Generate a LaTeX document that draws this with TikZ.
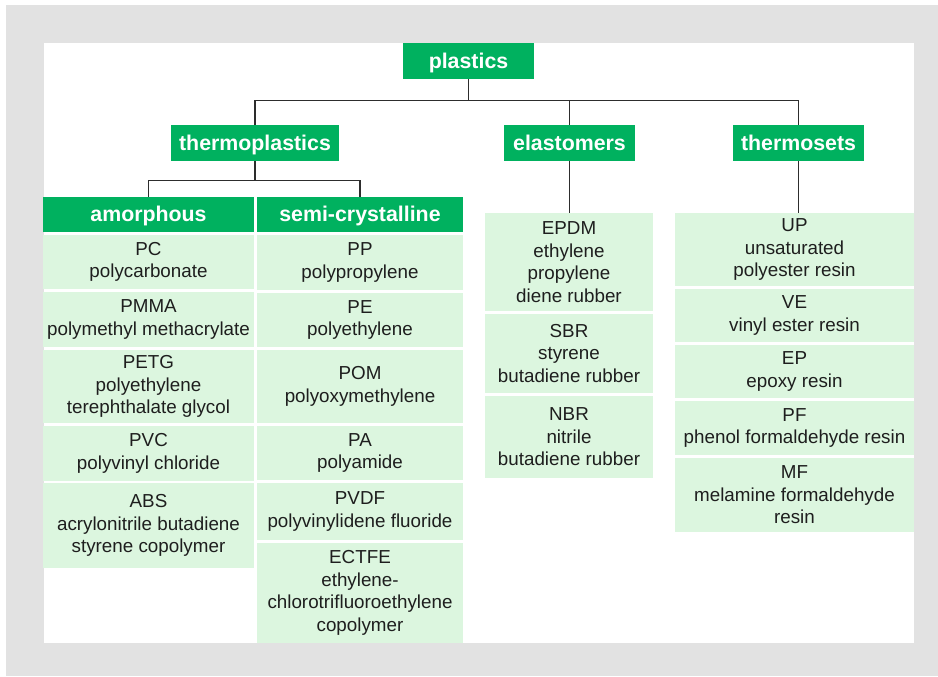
\documentclass[tikz,border=0pt]{standalone}
\usepackage{fontspec}
\setmainfont{Liberation Sans}
\usetikzlibrary{positioning}

\definecolor{hdgreen}{RGB}{0,177,95}
\definecolor{cellgreen}{RGB}{220,246,223}
\definecolor{framegray}{RGB}{226,226,226}
\definecolor{linegray}{RGB}{45,45,45}
\definecolor{txtgray}{RGB}{30,30,30}

\tikzset{
  sz/.style 2 args={minimum width=#1*0.75pt, minimum height=#2*0.75pt},
  head/.style={fill=hdgreen, text=white, inner sep=0pt,
    text height=11pt, text depth=0pt,
    font=\fontsize{16}{18}\selectfont\bfseries},
  cell/.style={fill=cellgreen, text=txtgray, align=center, inner sep=0pt,
    font=\fontsize{14.1}{16.9}\selectfont},
  link/.style={draw=linegray, line width=0.8pt}
}

\begin{document}
\begin{tikzpicture}[x=0.75pt,y=-0.75pt]
% frame
\useasboundingbox (0,0) rectangle (938,676);
\fill[framegray] (6,5) rectangle (938,676);
\fill[white] (44,43) rectangle (914,643);

% levels
\node[head, sz={131}{36}] (plastics) at (468.5,61) {plastics};
\node[head, sz={168}{36}] (thermo) at (255,143) {thermoplastics};
\node[head, sz={131}{36}] (elast) at (569.5,143) {elastomers};
\node[head, sz={131}{36}] (tset) at (798.5,143) {thermosets};
\node[head, sz={211}{35}] (amorph) at (148.5,214.5) {amorphous};
\node[head, sz={206}{35}] (semi) at (360,214.5) {semi-crystalline};

% amorphous
\node[cell, sz={211}{54}] (pc) at (148.5,262) {PC\\polycarbonate};
\node[cell, sz={211}{55}] (pmma) at (148.5,319.5) {PMMA\\polymethyl methacrylate};
\node[cell, sz={211}{73}] (petg) at (148.5,386.5) {PETG\\polyethylene\\terephthalate glycol};
\node[cell, sz={211}{55}] (pvc) at (148.5,453.5) {PVC\\polyvinyl chloride};
\node[cell, sz={211}{85}] (abs) at (148.5,525.5) {ABS\\acrylonitrile butadiene\\styrene copolymer};

% semi-crystalline
\node[cell, sz={206}{55}] (pp) at (360,262.5) {PP\\polypropylene};
\node[cell, sz={206}{54}] (pe) at (360,320) {PE\\polyethylene};
\node[cell, sz={206}{73}] (pom) at (360,386.5) {POM\\polyoxymethylene};
\node[cell, sz={206}{54}] (pa) at (360,453) {PA\\polyamide};
\node[cell, sz={206}{57}] (pvdf) at (360,511.5) {PVDF\\polyvinylidene fluoride};
\node[cell, sz={206}{100}] (ectfe) at (360,593) {ECTFE\\ethylene-\\chlorotrifluoroethylene\\copolymer};

% elastomers
\node[cell, sz={168}{98}] (epdm) at (569,262) {EPDM\\ethylene\\propylene\\diene rubber};
\node[cell, sz={168}{79}] (sbr) at (569,353.5) {SBR\\styrene\\butadiene rubber};
\node[cell, sz={168}{82}] (nbr) at (569,437) {NBR\\nitrile\\butadiene rubber};

% thermosets
\node[cell, sz={239}{73}] (up) at (794.5,249.5) {UP\\unsaturated\\polyester resin};
\node[cell, sz={239}{53}] (ve) at (794.5,315.5) {VE\\vinyl ester resin};
\node[cell, sz={239}{53}] (ep) at (794.5,371.5) {EP\\epoxy resin};
\node[cell, sz={239}{54}] (pf) at (794.5,428) {PF\\phenol formaldehyde resin};
\node[cell, sz={239}{74}] (mf) at (794.5,495) {MF\\melamine formaldehyde\\resin};

% connectors
\draw[link] (plastics.south) -- ++(0,21) -| (thermo.north);
\draw[link] (plastics.south) -- ++(0,21) -| (elast.north);
\draw[link] (plastics.south) -- ++(0,21) -| (tset.north);
\draw[link] (thermo.south) -- ++(0,19) -| (amorph.north);
\draw[link] (thermo.south) -- ++(0,19) -| (semi.north);
\draw[link] (elast.south) -- (elast.south |- epdm.north);
\draw[link] (tset.south) -- (tset.south |- up.north);

\end{tikzpicture}
\end{document}
